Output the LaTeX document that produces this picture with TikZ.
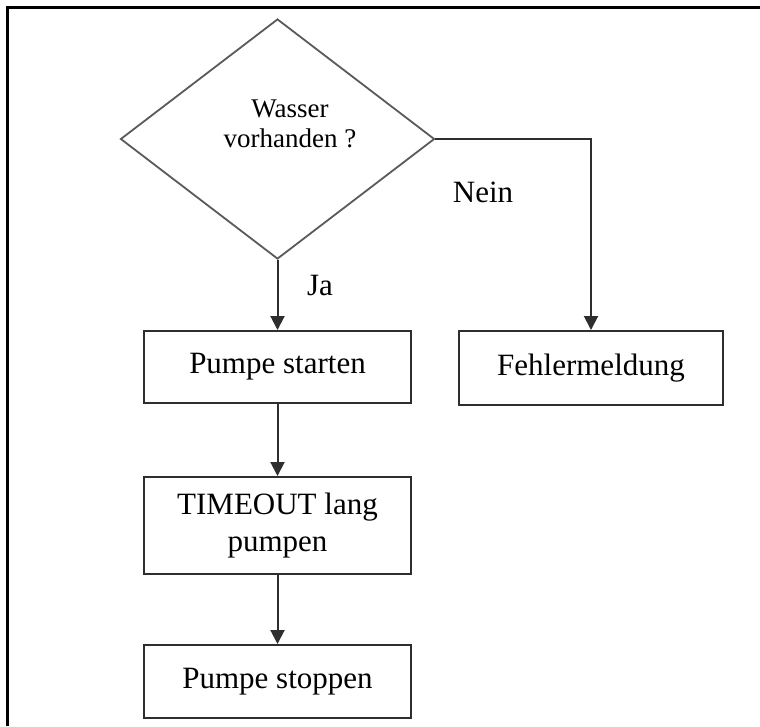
\documentclass[tikz,border=0pt]{standalone}
\usepackage{fontspec}
\setmainfont{Liberation Serif}
\usetikzlibrary{shapes.geometric,arrows.meta}
\definecolor{boxline}{HTML}{2E2E2E}
\definecolor{decline}{HTML}{5A5A5A}
\begin{document}
\begin{tikzpicture}[x=1pt,y=-1pt,
  stepbox/.style={draw=boxline,line width=2pt,rectangle,inner sep=0pt,
    font=\fontsize{31}{37}\selectfont,align=center},
  decision/.style={draw=decline,line width=1.8pt,diamond,inner sep=0pt,
    minimum width=314pt,minimum height=240pt},
  flow/.style={draw=boxline,line width=2pt,
    -{Triangle[length=14pt,width=14pt]}},
  lbl/.style={font=\fontsize{31}{37}\selectfont,anchor=base,inner sep=0pt}]
  \useasboundingbox (0,0) rectangle (760,726);
  \fill[white] (0,0) rectangle (760,726);
  % frame along the top and left edges
  \draw[line width=2.5pt] (7.5,726) -- (7.5,7.5) -- (760,7.5);

  % decision
  \node[decision] (q) at (277.5,139) {};
  \node[font=\fontsize{27}{30}\selectfont,align=center,inner sep=0pt] (qtext) at (290,124) {Wasser\\vorhanden ?};

  % process steps
  \node[stepbox,minimum width=267pt,minimum height=72pt] (start) at (277.5,367) {Pumpe starten};
  \node[stepbox,minimum width=264pt,minimum height=74pt] (fehler) at (591,368) {Fehlermeldung};
  \node[stepbox,minimum width=267pt,minimum height=97pt] (pump) at (277.5,525.5) {TIMEOUT lang\\pumpen};
  \node[stepbox,minimum width=267pt,minimum height=73pt] (stop) at (277.5,681.5) {Pumpe stoppen};

  % connectors
  \draw[flow] (q.south) -- (start.north);
  \draw[flow] (q.east) -| (fehler.north);
  \draw[flow] (start.south) -- (pump.north);
  \draw[flow] (pump.south) -- (stop.north);

  % branch labels
  \node[lbl] (ja) at (320,295) {Ja};
  \node[lbl] (nein) at (483,202) {Nein};
\end{tikzpicture}
\end{document}
